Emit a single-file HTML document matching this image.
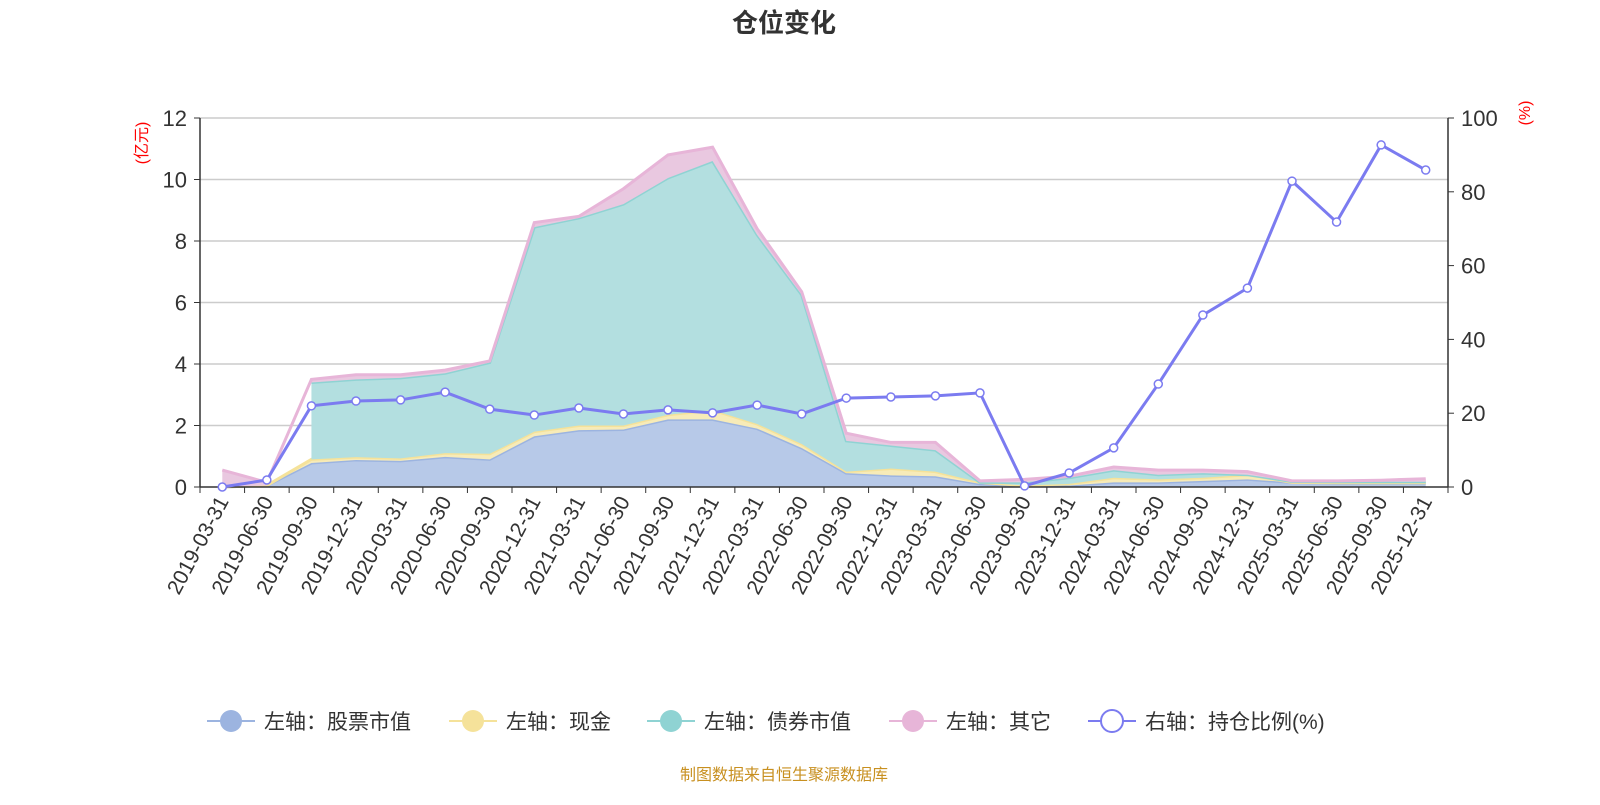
<!DOCTYPE html>
<html><head><meta charset="utf-8"><style>
body{margin:0;background:#fff;width:1600px;height:800px;overflow:hidden;font-family:"Liberation Sans","Noto Sans CJK SC",sans-serif}
</style></head><body>
<svg id="c" width="1600" height="800" xmlns="http://www.w3.org/2000/svg" font-family="Liberation Sans, Noto Sans CJK SC, sans-serif"></svg>
<script>
const categories=["2019-03-31","2019-06-30","2019-09-30","2019-12-31","2020-03-31","2020-06-30","2020-09-30","2020-12-31","2021-03-31","2021-06-30","2021-09-30","2021-12-31","2022-03-31","2022-06-30","2022-09-30","2022-12-31","2023-03-31","2023-06-30","2023-09-30","2023-12-31","2024-03-31","2024-06-30","2024-09-30","2024-12-31","2025-03-31","2025-06-30","2025-09-30","2025-12-31"];
const stock=[0,0.05,0.78,0.88,0.85,0.98,0.9,1.65,1.85,1.87,2.2,2.2,1.9,1.27,0.45,0.38,0.35,0.1,0.05,0.05,0.15,0.15,0.2,0.25,0.15,0.12,0.12,0.12];
const cash=[0,0,0.12,0.09,0.08,0.12,0.18,0.15,0.15,0.13,0.15,0.3,0.15,0.13,0.05,0.22,0.15,0.05,0,0.05,0.15,0.1,0.1,0.15,0,0.02,0.02,0.02];
const bond=[null,null,2.5,2.53,2.62,2.6,2.97,6.65,6.75,7.2,7.7,8.1,6.15,4.85,1.0,0.75,0.7,0,0.1,0.2,0.25,0.15,0.15,0,0.03,0.03,0.03,0.03];
const other=[0.55,0.1,0.1,0.15,0.1,0.1,0.05,0.15,0.05,0.5,0.75,0.45,0.2,0.1,0.25,0.1,0.25,0.05,0.1,0.05,0.1,0.15,0.1,0.1,0.02,0.03,0.05,0.1];
const ratio=[0,1.9,22,23.3,23.6,25.7,21.1,19.5,21.4,19.8,20.9,20.1,22.2,19.8,24.1,24.4,24.7,25.5,0.3,3.8,10.6,27.9,46.6,53.9,82.9,71.8,92.7,85.9];
const leftTicks=[0,2,4,6,8,10,12];
const rightTicks=[0,20,40,60,80,100];
const svg=document.getElementById('c');const NS='http://www.w3.org/2000/svg';
const L=200,R=1448,T=118,B=487;
const bw=(R-L)/categories.length;
const xs=i=>L+bw*(i+0.5);
const yl=v=>B-(B-T)*v/12;
const yr=v=>B-(B-T)*v/100;
function el(t,a,p){const e=document.createElementNS(NS,t);for(const k in a)e.setAttribute(k,a[k]);(p||svg).appendChild(e);return e;}
let t=el('text',{x:784,y:32,'text-anchor':'middle','font-size':26,'font-weight':'bold',fill:'#333'});t.textContent='仓位变化';

leftTicks.forEach(v=>{
 if(v>0){const g=el('line',{x1:L,x2:R,y1:yl(v),y2:yl(v),stroke:'#ccc','stroke-width':1.5});}
 const tx=el('text',{x:L-13,y:yl(v)+8,'text-anchor':'end','font-size':22,fill:'#333'});tx.textContent=v;
 
 el('line',{x1:L-6,x2:L,y1:yl(v),y2:yl(v),stroke:'#333'});
});
rightTicks.forEach(v=>{
 const tx=el('text',{x:R+13,y:yr(v)+8,'font-size':22,fill:'#333'});tx.textContent=v;
 
 el('line',{x1:R,x2:R+6,y1:yr(v),y2:yr(v),stroke:'#333'});
});
let a1=el('text',{transform:'translate(147,143) rotate(-90)','text-anchor':'middle','font-size':16,fill:'#f00'});a1.textContent='(亿元)';

let a2=el('text',{transform:'translate(1530,113) rotate(-90)','text-anchor':'middle','font-size':16,fill:'#f00'});a2.textContent='(%)';

const series=[[stock,'#b7c9e8','#9cb4e0','stock-area'],[cash,'#f7ebb8','#f5e29a','cash-area'],[bond,'#b3dfe0','#8fd3d3','bond-area'],[other,'#e9c8e0','#e7b5d8','other-area']];
let base=categories.map(()=>0);
series.forEach(([d,fill,line,name])=>{
 const idx=categories.map((c,i)=>i).filter(i=>d[i]!==null);
 const top=base.map((b,i)=>b+(d[i]||0));
 let p=idx.map(i=>`${xs(i)},${yl(top[i])}`).join(' L');
 let q=idx.map(i=>`${xs(i)},${yl(base[i])}`).reverse().join(' L');
 const ar=el('path',{d:`M${p} L${q} Z`,fill:fill,stroke:'none'});
 
 const ln=el('path',{d:`M${p}`,fill:'none',stroke:line,'stroke-width':3});
 
 base=top;
});
el('line',{x1:L,x2:R,y1:B,y2:B,stroke:'#333','stroke-width':1.5});
el('line',{x1:L,x2:L,y1:T,y2:B,stroke:'#333','stroke-width':1.5});
el('line',{x1:R,x2:R,y1:T,y2:B,stroke:'#333','stroke-width':1.5});
categories.forEach((c,i)=>{
 el('line',{x1:L+bw*i,x2:L+bw*i,y1:B,y2:B+6,stroke:'#333'});
 const tx=el('text',{transform:`translate(${xs(i)+7},${B+14}) rotate(-62)`,'text-anchor':'end','font-size':21,fill:'#333'});tx.textContent=c;
 
});
el('line',{x1:R,x2:R,y1:B,y2:B+6,stroke:'#333'});
const rl=el('path',{d:'M'+ratio.map((v,i)=>`${xs(i)},${yr(v)}`).join(' L'),fill:'none',stroke:'#7b7bf0','stroke-width':3});

ratio.forEach((v,i)=>{const c=el('circle',{cx:xs(i),cy:yr(v),r:4,fill:'#fff',stroke:'#7b7bf0','stroke-width':1.5});
 });
const leg=[['左轴：股票市值','#9cb4e0',207],['左轴：现金','#f5e29a',449],['左轴：债券市值','#8fd3d3',647],['左轴：其它','#e7b5d8',889],['右轴：持仓比例(%)','#7b7bf0',1088]];
leg.forEach(([txt,col,x],k)=>{
 const g=el('g',{});
 el('line',{x1:x,x2:x+48,y1:721,y2:721,stroke:col,'stroke-width':2},g);
 if(k<4)el('circle',{cx:x+24,cy:721,r:11,fill:col},g);else el('circle',{cx:x+24,cy:721,r:11,fill:'#fff',stroke:col,'stroke-width':2},g);
 const tt=el('text',{x:x+57,y:729,'font-size':21,fill:'#333'},g);tt.textContent=txt;
});
const ft=el('text',{x:784,y:780,'text-anchor':'middle','font-size':16,fill:'#c89020'});ft.textContent='制图数据来自恒生聚源数据库';

</script>
</body></html>
